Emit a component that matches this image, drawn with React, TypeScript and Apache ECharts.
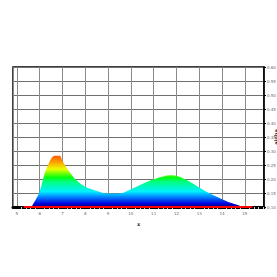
import React, { useEffect, useRef } from "react";
import * as echarts from "echarts";

const xValues = [5.64, 5.86, 6.0, 6.22, 6.43, 6.55, 6.65, 6.8, 6.9, 7.0, 7.3, 7.6, 8.0, 8.5, 9.0, 9.5, 10.0, 10.5, 11.0, 11.5, 11.75, 12.1, 12.55, 13.0, 13.45, 14.0, 14.45, 14.8, 14.95];
const alphaValues = [0.1, 0.131, 0.155, 0.22, 0.262, 0.278, 0.283, 0.283, 0.282, 0.264, 0.226, 0.196, 0.172, 0.157, 0.148, 0.148, 0.163, 0.182, 0.199, 0.211, 0.213, 0.209, 0.192, 0.17, 0.149, 0.128, 0.113, 0.104, 0.1];
const baselineX = [5.3, 15.33];
const baselineY = [0.1, 0.1];

// colormap stops (value -> color)
const cmapValues = [0.1, 0.112, 0.135, 0.155, 0.19, 0.205, 0.235, 0.26, 0.283];
const cmapColors = ["#00007a", "#0000e0", "#0080ff", "#00f0ff", "#00ff80", "#00ff10", "#e8ff00", "#ffa000", "#ff5a00"];

export default function App() {
  const ref = useRef<HTMLDivElement>(null);
  useEffect(() => {
    if (!ref.current) return;
    const chart = echarts.init(ref.current, null, { renderer: "svg" });
    const vMin = Math.min(...alphaValues);
    const vMax = Math.max(...alphaValues);
    const stops = cmapValues
      .map((v, i) => ({ offset: Math.min(1, Math.max(0, (vMax - v) / (vMax - vMin))), color: cmapColors[i] }))
      .sort((a, b) => a.offset - b.offset);
    chart.setOption({
      animation: false,
      backgroundColor: "#fff",
      grid: {
        left: 13, right: 13, top: 67, bottom: 70,
        containLabel: false,
        outerBoundsMode: "none",
        show: true, borderColor: "#000", borderWidth: 1.5,
      },
      xAxis: {
        type: "value",
        min: 4.83,
        max: 15.84,
        splitNumber: 11,
        name: "x",
        nameLocation: "middle",
        nameGap: 14,
        nameTextStyle: { fontSize: 5, color: "#333", fontFamily: "DejaVu Sans", fontWeight: "bold" },
        axisLine: { show: true, lineStyle: { color: "#000", width: 3 } },
        axisTick: { show: true, length: 2, inside: false, lineStyle: { color: "#000" } },
        minorTick: { show: true, splitNumber: 5, length: 2, lineStyle: { color: "#ccc" } },
        axisLabel: {
          fontSize: 4,
          color: "#666",
          margin: 4,
          fontFamily: "DejaVu Sans",
          showMinLabel: false,
          showMaxLabel: false,
          formatter: (v: number) => (Math.abs(v - Math.round(v)) < 1e-6 ? String(Math.round(v)) : ""),
        },
        splitLine: { show: true, lineStyle: { color: "#8a8a8a", width: 1 } },
      },
      yAxis: {
        type: "value",
        position: "right",
        min: 0.1,
        max: 0.6,
        interval: 0.05,
        name: "alpha",
        nameLocation: "middle",
        nameRotate: 90,
        nameGap: 9,
        nameMoveOverlap: false,
        nameTextStyle: { fontSize: 5, color: "#333", fontFamily: "DejaVu Sans", fontWeight: "bold" },
        axisLine: { show: true, lineStyle: { color: "#000", width: 1.5 } },
        axisTick: { show: true, length: 2, lineStyle: { color: "#000" } },
        axisLabel: { fontSize: 4, color: "#666", margin: 3, fontFamily: "DejaVu Sans", formatter: (v: number) => v.toFixed(2) },
        splitLine: { show: true, lineStyle: { color: "#707070", width: 1 } },
      },
      series: [
        {
          type: "line",
          data: xValues.map((x, i) => [x, alphaValues[i]]),
          smooth: 0.3,
          symbol: "none",
          lineStyle: { width: 0 },
          areaStyle: {
            origin: "start",
            opacity: 1,
            color: new echarts.graphic.LinearGradient(0, 0, 0, 1, stops),
          },
          z: 2,
        },
        {
          type: "line",
          data: baselineX.map((x, i) => [x, baselineY[i]]),
          symbol: "none",
          lineStyle: { color: "#ff0000", width: 2 },
          z: 3,
        },
      ],
    });
    return () => chart.dispose();
  }, []);
  return <div ref={ref} style={{ position: "absolute", left: 0, top: 0, width: 277, height: 277, background: "#fff" }} />;
}
